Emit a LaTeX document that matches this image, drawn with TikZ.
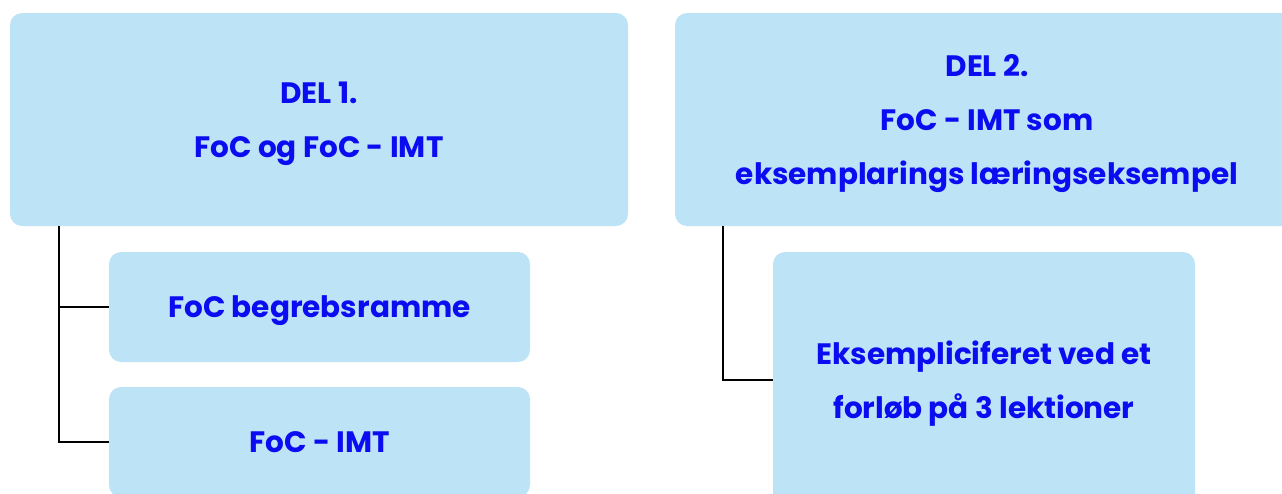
\documentclass[tikz,border=0pt]{standalone}
\usepackage{fontspec}
\setmainfont{Poppins}
\usepackage{tikz}
\usetikzlibrary{positioning}
\usetikzlibrary{calc}
\definecolor{boxblue}{RGB}{189,227,247}
\definecolor{textblue}{RGB}{12,12,240}

\begin{document}
\begin{tikzpicture}[x=1pt,y=-1pt,
  part/.style={fill=boxblue, rounded corners=12pt, text=textblue, font=\bfseries\fontsize{29.5}{54}\selectfont, align=center, inner sep=0pt, text depth=0pt},
  link/.style={black, line width=2pt}]
\useasboundingbox (0,0) rectangle (1282,493);
\clip (0,0) rectangle (1282,493);

\node[part, minimum width=618pt, minimum height=213pt] (del1) at (319,119.5) {DEL 1.\\FoC og FoC - IMT};% Part 1
\node[part, minimum width=624pt, minimum height=213pt] (del2) at (987,119.5) {DEL 2.\\FoC - IMT som\\eksemplarings læringseksempel};% Part 2

\node[part, minimum width=421pt, minimum height=110pt] (begreb) at (319.5,307) {FoC begrebsramme};
\node[part, minimum width=421pt, minimum height=110pt] (imt) at (319.5,442) {FoC - IMT};
\node[part, minimum width=422pt, minimum height=256pt] (forloeb) at (984,380) {Eksempliciferet ved et\\forløb på 3 lektioner};

\coordinate (trunk1) at (59,226);
\coordinate (trunk2) at (723,226);
\draw[link] (trunk1) |- (begreb.west);
\draw[link] (trunk1) |- (imt.west);
\draw[link] (trunk2) |- (forloeb.west);
\end{tikzpicture}
\end{document}
